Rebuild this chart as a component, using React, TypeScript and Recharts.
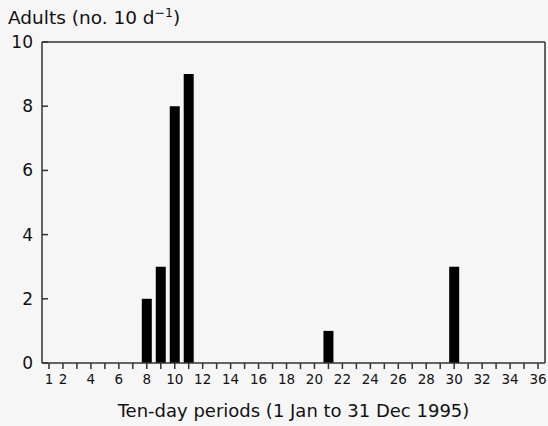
import { BarChart, Bar, XAxis, YAxis, Label } from "recharts";

const periods = [
  1, 2, 3, 4, 5, 6, 7, 8, 9, 10, 11, 12, 13, 14, 15, 16, 17, 18,
  19, 20, 21, 22, 23, 24, 25, 26, 27, 28, 29, 30, 31, 32, 33, 34, 35, 36,
];
const adults = [
  0, 0, 0, 0, 0, 0, 0, 2, 3, 8, 9, 0, 0, 0, 0, 0, 0, 0,
  0, 0, 1, 0, 0, 0, 0, 0, 0, 0, 0, 3, 0, 0, 0, 0, 0, 0,
];
const labelledPeriods = [1, 2, 4, 6, 8, 10, 12, 14, 16, 18, 20, 22, 24, 26, 28, 30, 32, 34, 36];
const yTicks = [0, 2, 4, 6, 8, 10];

const data = periods.map((p, i) => ({ period: p, adults: adults[i] }));

const FONT = "DejaVu Sans";
const INK = "#111";

function PeriodTick(props: any) {
  const { x, y, payload } = props;
  if (!labelledPeriods.includes(payload.value)) return <g />;
  return (
    <text x={x} y={y + 13} textAnchor="middle" fontFamily={FONT} fontSize={13.5} fill={INK}>
      {payload.value}
    </text>
  );
}

function YTitle() {
  return (
    <text x={8} y={24} fontFamily={FONT} fontSize={18.5} fill={INK}>
      Adults (no. 10 d
      <tspan dy={-7} fontSize={12.5}>−1</tspan>
      <tspan dy={7}>)</tspan>
    </text>
  );
}

export default function App() {
  return (
    <div style={{ position: "absolute", left: 0, top: 0, width: 548, height: 426, background: "#f6f6f6" }}>
      <BarChart
        width={548}
        height={426}
        data={data}
        margin={{ top: 41, right: 2, bottom: 0, left: 0 }}
        barSize={10}
      >
        <XAxis
          dataKey="period"
          interval={0}
          tick={<PeriodTick />}
          tickSize={6}
          tickMargin={2}
          tickLine={{ stroke: "#333", strokeWidth: 1.5 }}
          axisLine={{ stroke: "#333", strokeWidth: 1.5 }}
          height={63}
        >
          <Label
            value="Ten-day periods (1 Jan to 31 Dec 1995)"
            position="insideBottom"
            offset={9}
            style={{ fontFamily: FONT, fontSize: 18, fill: INK }}
          />
        </XAxis>
        <XAxis
          xAxisId="top"
          dataKey="period"
          orientation="top"
          height={1}
          tick={false}
          tickLine={false}
          axisLine={{ stroke: "#333", strokeWidth: 1.5 }}
        />
        <YAxis
          domain={[0, 10]}
          ticks={yTicks}
          width={42}
          tickSize={-6}
          tickMargin={15}
          tick={{ fontFamily: FONT, fontSize: 17, fill: INK }}
          tickLine={{ stroke: "#333", strokeWidth: 1.5 }}
          axisLine={{ stroke: "#333", strokeWidth: 1.5 }}
        >
          <Label content={<YTitle />} />
        </YAxis>
        <YAxis
          yAxisId="right"
          orientation="right"
          domain={[0, 10]}
          width={1}
          tick={false}
          tickLine={false}
          axisLine={{ stroke: "#333", strokeWidth: 1.5 }}
        />
        <Bar dataKey="adults" fill="#000" isAnimationActive={false} />
      </BarChart>
    </div>
  );
}
